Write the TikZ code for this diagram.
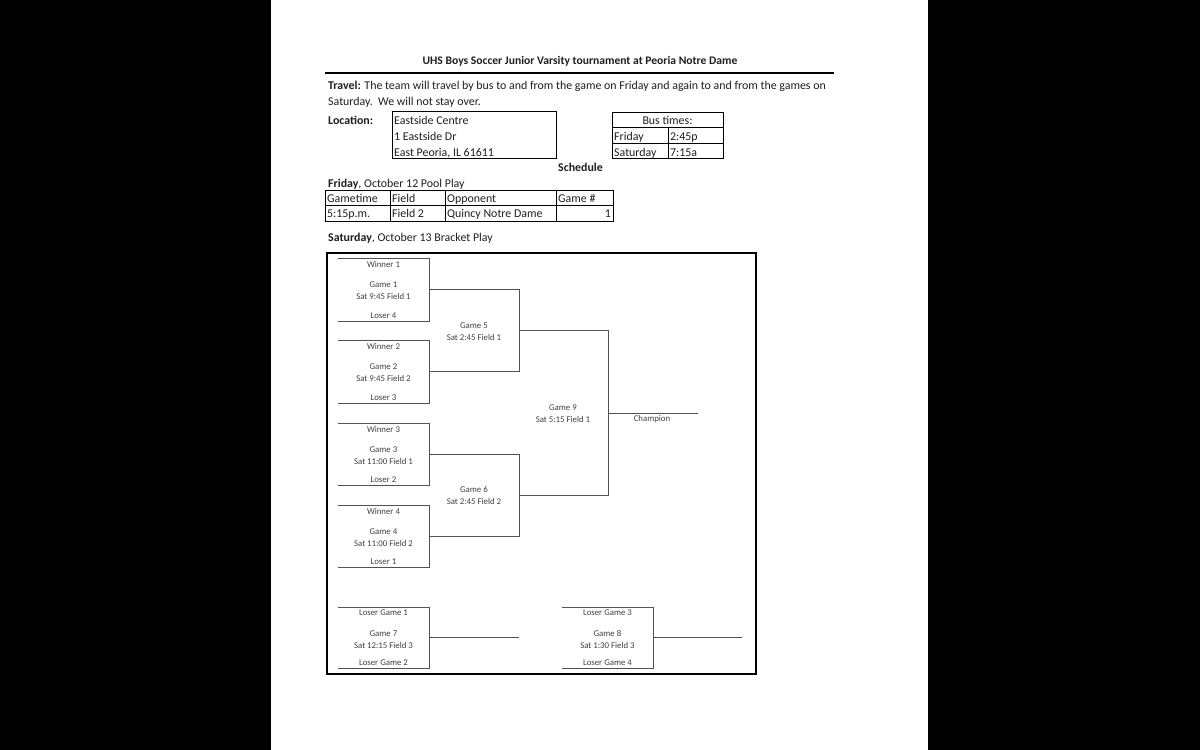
\documentclass[tikz,border=0pt]{standalone}
\usepackage{fontspec}
\setmainfont{Carlito}
\newcommand\bodyfs{\fontsize{11.9}{14}\selectfont}
\newcommand\smallfs{\fontsize{8.8}{10}\selectfont}
\tikzset{
  body/.style={font=\bodyfs, inner sep=0pt, anchor=base west, text=black!88},
  bline/.style={draw=black!68, line width=1pt},
  btext/.style={font=\smallfs, inner sep=0pt, text=black!75},
  tline/.style={draw=black, line width=1pt},
}
\newcommand\gbox[8]{%
  \coordinate (#1tl) at (#2,#3);
  \coordinate (#1tr) at (#2+91,#3);
  \coordinate (#1br) at (#2+91,#3+#4);
  \coordinate (#1bl) at (#2,#3+#4);
  \coordinate (#1out) at (#2+91,#3+#4/2);
  \draw[bline] (#1tl) -- (#1tr) -- (#1br) -- (#1bl);
  \node[btext] (#1a) at (#2+45.5,#3+6) {#5};
  \node[btext] (#1g) at (#2+45.5,#3+27) {#6};
  \node[btext] (#1t) at (#2+45.5,#3+38) {#7};
  \node[btext] (#1b) at (#2+45.5,#3+#4-5) {#8};
}
\begin{document}
\begin{tikzpicture}[x=1pt,y=-1pt]
\useasboundingbox (0,0) rectangle (1200,750);
\fill[black] (0,0) rectangle (1200,750);
\fill[white] (271,0) rectangle (928,750);

% title
\node[font=\fontsize{11.6}{14}\selectfont\bfseries, inner sep=0pt, text=black!88] (title) at (580,61) {UHS Boys Soccer Junior Varsity tournament at Peoria Notre Dame};
\coordinate (ruleL) at (325,73);
\coordinate (ruleR) at (834,73);
\draw[line width=2pt] (ruleL) -- (ruleR);

\node[body] (travel1) at (328,89) {\textbf{Travel:} The team will travel by bus to and from the game on Friday and again to and from the games on};
\node[body] (travel2) at (328,105) {Saturday.\ \ We will not stay over.};

% location
\node[body] (loclabel) at (328,124) {\textbf{Location:}};
\draw[tline] (392,111) rectangle (556,158);
\node[body] (loc1) at (394,124) {Eastside Centre};
\node[body] (loc2) at (394,140) {1 Eastside Dr};
\node[body] (loc3) at (394,156) {East Peoria, IL 61611};

% bus times
\draw[tline] (612,112) rectangle (723,158);
\draw[tline] (612,127) -- (723,127);
\draw[tline] (612,143) -- (723,143);
\draw[tline] (668,127) -- (668,158);
\node[font=\bodyfs, inner sep=0pt, anchor=base, text=black!88] (bushead) at (667.5,124) {Bus times:};
\node[body] (busf) at (614,140) {Friday};
\node[body] (busft) at (670,140) {2:45p};
\node[body] (buss) at (614,156) {Saturday};
\node[body] (busst) at (670,156) {7:15a};

\node[body] (sched) at (558,171) {\textbf{Schedule}};

% Friday table
\node[body] (fri) at (328,187) {\textbf{Friday}, October 12 Pool Play};
\draw[tline] (325,190) rectangle (613,221);
\draw[tline] (325,205) -- (613,205);
\draw[tline] (390,190) -- (390,221);
\draw[tline] (445,190) -- (445,221);
\draw[tline] (556,190) -- (556,221);
\node[body] (h1) at (327,202) {Gametime};
\node[body] (h2) at (392,202) {Field};
\node[body] (h3) at (447,202) {Opponent};
\node[body] (h4) at (558,202) {Game \#};
\node[body] (c1) at (327,217) {5:15p.m.};
\node[body] (c2) at (392,217) {Field 2};
\node[body] (c3) at (447,217) {Quincy Notre Dame};
\node[font=\bodyfs, inner sep=0pt, anchor=base east, text=black!88] (c4) at (611,217) {1};

\node[body] (sat) at (328,241) {\textbf{Saturday}, October 13 Bracket Play};

% bracket frame
\draw[line width=1.1pt] (327,253) rectangle (756,674);

\gbox{ga}{338}{258}{63}{Winner 1}{Game 1}{Sat 9:45 Field 1}{Loser 4}
\gbox{gb}{338}{340}{63}{Winner 2}{Game 2}{Sat 9:45 Field 2}{Loser 3}
\gbox{gc}{338}{423}{62}{Winner 3}{Game 3}{Sat 11:00 Field 1}{Loser 2}
\gbox{gd}{338}{505}{62}{Winner 4}{Game 4}{Sat 11:00 Field 2}{Loser 1}
\gbox{gg}{338}{607}{61}{Loser Game 1}{Game 7}{Sat 12:15 Field 3}{Loser Game 2}
\gbox{gh}{562}{607}{61}{Loser Game 3}{Game 8}{Sat 1:30 Field 3}{Loser Game 4}

% game 5
\coordinate (g5top) at (519,289.5);
\coordinate (g5bot) at (519,371.5);
\coordinate (g5out) at (519,330.5);
\draw[bline] (gaout) -- (g5top) -- (g5bot) -- (gbout);
\node[btext] (g5a) at (474,326) {Game 5};
\node[btext] (g5b) at (474,337) {Sat 2:45 Field 1};

% game 6
\coordinate (g6top) at (519,454);
\coordinate (g6bot) at (519,536);
\coordinate (g6out) at (519,495);
\draw[bline] (gcout) -- (g6top) -- (g6bot) -- (gdout);
\node[btext] (g6a) at (474,490) {Game 6};
\node[btext] (g6b) at (474,501) {Sat 2:45 Field 2};

% game 9
\coordinate (g9top) at (608,330.5);
\coordinate (g9bot) at (608,495);
\coordinate (g9out) at (608,413);
\coordinate (champend) at (698,413);
\draw[bline] (g5out) -- (g9top) -- (g9bot) -- (g6out);
\draw[bline] (g9out) -- (champend);
\node[btext] (g9a) at (563,408) {Game 9};
\node[btext] (g9b) at (563,419) {Sat 5:15 Field 1};
\node[btext] (champ) at (652,419) {Champion};

% consolation
\coordinate (g7end) at (519,637.5);
\coordinate (g8end) at (742,637.5);
\draw[bline] (ggout) -- (g7end);
\draw[bline] (ghout) -- (g8end);
\end{tikzpicture}
\end{document}
